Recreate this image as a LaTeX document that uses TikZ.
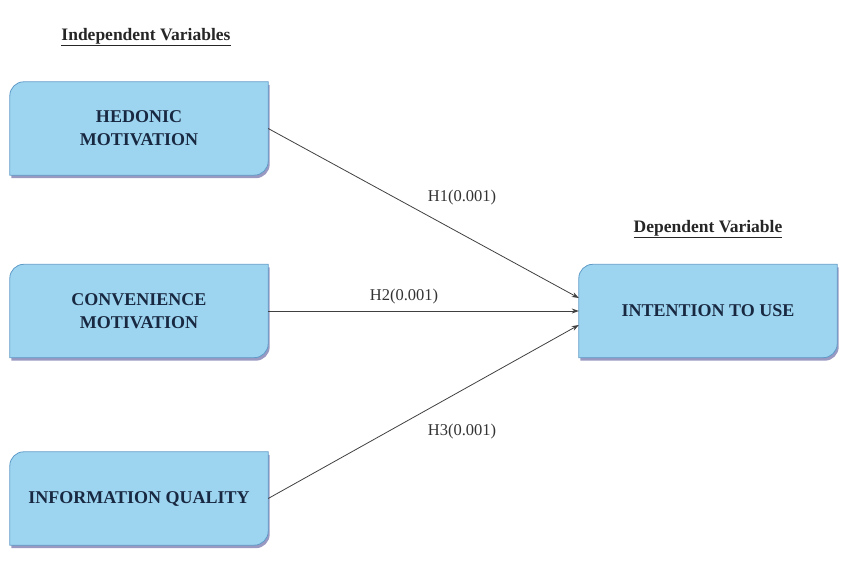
\documentclass[tikz,border=0pt]{standalone}
\usepackage{fontspec}
\setmainfont{Liberation Serif}
\usetikzlibrary{shadows,arrows.meta}
\definecolor{boxfill}{RGB}{157,213,240}
\definecolor{boxedge}{RGB}{95,155,200}
\definecolor{txt}{RGB}{25,40,65}
\pgfdeclarelayer{bg}
\pgfsetlayers{bg,main}
\tikzset{
 vbox/.style={rectangle, minimum width=258pt, minimum height=93pt, inner sep=0pt, align=center, font=\fontsize{18}{23}\selectfont\bfseries, text=txt},
 lbl/.style={font=\fontsize{16.5}{18}\selectfont, text=black!80},
 ttl/.style={font=\fontsize{17.5}{20}\selectfont\bfseries, text=black!85},
 conn/.style={-{Stealth[length=7pt,width=5pt]}, line width=0.8pt, draw=black!75},
 shapefill/.style={fill=boxfill, draw=boxedge, line width=0.8pt, drop shadow={shadow xshift=1.5pt, shadow yshift=-3pt, opacity=0.4, fill=black!60!blue}}
}
\newcommand\vshape[1]{\path[shapefill] ([yshift=-14pt]#1.north west) arc[start angle=180,end angle=90,radius=14pt] -- (#1.north east) -- ([yshift=14pt]#1.south east) arc[start angle=0,end angle=-90,radius=14pt] -- (#1.south west) -- cycle;}
\begin{document}
\begin{tikzpicture}[x=1pt,y=1pt]
\useasboundingbox (0,0) rectangle (858,568);
\node[ttl] (ti) at (146,531) {\underline{Independent Variables}};
\node[ttl] (td) at (708,339) {\underline{Dependent Variable}};
\node[vbox] (h) at (139,439.5) {HEDONIC\\MOTIVATION};
\node[vbox] (c) at (139,257) {CONVENIENCE\\MOTIVATION};
\node[vbox] (q) at (139,69.5) {INFORMATION QUALITY};
\node[vbox] (i) at (708,257) {INTENTION TO USE};
\begin{pgfonlayer}{bg}
\vshape{h}\vshape{c}\vshape{q}\vshape{i}
\end{pgfonlayer}
\draw[conn] (h.east) -- ([yshift=13pt]i.west);
\draw[conn] (c.east) -- ([yshift=0pt]i.west);
\draw[conn] (q.east) -- ([yshift=-14pt]i.west);
\node[lbl] (l1) at (462,370) {H1(0.001)};
\node[lbl] (l2) at (404,271) {H2(0.001)};
\node[lbl] (l3) at (462,136) {H3(0.001)};
\end{tikzpicture}
\end{document}
